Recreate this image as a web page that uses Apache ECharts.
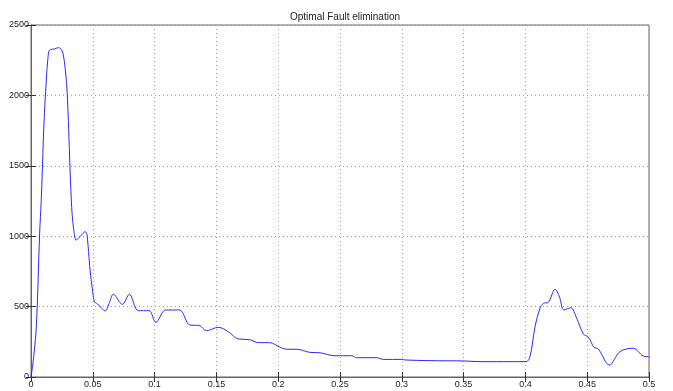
<!DOCTYPE html>
<html>
<head>
<meta charset="utf-8">
<script src="https://cdn.jsdelivr.net/npm/echarts@6/dist/echarts.min.js"></script>
<style>
  html, body { margin: 0; padding: 0; background: #fff; }
  #chart { width: 673px; height: 391px; }
</style>
</head>
<body>
<div id="chart"></div>
<script>
// Time (s) and signal amplitude samples
const timeValues = [
  0, 0.0016, 0.0043, 0.007, 0.0083, 0.0105, 0.0124, 0.0138, 0.0151, 0.019,
  0.0224, 0.024, 0.0259, 0.0278, 0.0294, 0.0326, 0.0345, 0.0367, 0.040, 0.0440,
  0.0455, 0.0475, 0.0500, 0.0515, 0.055, 0.0599, 0.0635, 0.0666, 0.0739, 0.0796,
  0.0868, 0.0955, 0.101, 0.109, 0.120, 0.1286, 0.136, 0.142, 0.1515, 0.1596,
  0.1677, 0.177, 0.184, 0.193, 0.2015, 0.207, 0.215, 0.2257, 0.2338, 0.246,
  0.2595, 0.2635, 0.2797, 0.285, 0.300, 0.3026, 0.3228, 0.35, 0.3633, 0.4005,
  0.4037, 0.4078, 0.4118, 0.4145, 0.4185, 0.424, 0.4275, 0.4312, 0.4366, 0.4415,
  0.4469, 0.451, 0.4555, 0.459, 0.468, 0.4765, 0.4873, 0.4954, 0.5
];
const amplitudeValues = [
  0, 99, 357, 1022, 1257, 1800, 2109, 2275, 2322, 2330,
  2339, 2332, 2299, 2180, 2003, 1257, 1050, 973, 1000, 1032,
  1000, 783, 600, 535, 510, 469, 530, 587, 516, 587,
  471, 471, 388, 476, 476, 369, 366, 329, 353, 322,
  270, 265, 244, 244, 211, 197, 197, 175, 172, 151,
  151, 137, 137, 125, 125, 121, 116, 114, 109, 109,
  144, 357, 488, 523, 530, 623, 570, 476, 492, 417,
  305, 283, 211, 199, 85, 180, 204, 149, 144
];
const xTickLabels = ['0', '0.05', '0.1', '0.15', '0.2', '0.25', '0.3', '0.35', '0.4', '0.45', '0.5'];
const yTickLabels = ['0', '500', '1000', '1500', '2000', '2500'];
const chartTitle = 'Optimal Fault elimination';

const seriesData = timeValues.map((t, i) => [t, amplitudeValues[i]]);
const labelFont = { fontFamily: "'Liberation Sans Narrow', 'Liberation Sans', Arial, sans-serif", fontSize: 9, color: '#222' };
const frameColor = '#666';

const chart = echarts.init(document.getElementById('chart'), null, { renderer: 'canvas' });
chart.setOption({
  animation: false,
  backgroundColor: '#fff',
  title: {
    text: chartTitle,
    left: 340, top: 7, textAlign: 'center',
    textStyle: { fontFamily: labelFont.fontFamily, fontSize: 10, fontWeight: 'normal', color: '#222' }
  },
  grid: { left: 31, right: 24, top: 25, bottom: 14, show: true, borderColor: frameColor, borderWidth: 1, backgroundColor: 'transparent' },
  xAxis: [
    {
      type: 'value', min: 0, max: 0.5, interval: 0.05,
      axisLine: { show: true, lineStyle: { color: frameColor } },
      axisTick: { show: true, inside: true, length: 5, lineStyle: { color: '#333' } },
      axisLabel: {
        ...labelFont, margin: 3,
        formatter: (v) => xTickLabels[Math.round(v / 0.05)]
      },
      splitLine: { show: true, lineStyle: { color: '#999', type: [1, 3], width: 1 } }
    },
    {
      type: 'value', min: 0, max: 0.5, interval: 0.05, position: 'top',
      axisLine: { show: true, lineStyle: { color: frameColor } },
      axisTick: { show: true, inside: true, length: 5, lineStyle: { color: '#333' } },
      axisLabel: { show: false },
      splitLine: { show: false }
    }
  ],
  yAxis: [
    {
      type: 'value', min: 0, max: 2500, interval: 500,
      axisLine: { show: true, lineStyle: { color: frameColor } },
      axisTick: { show: true, inside: true, length: 5, lineStyle: { color: '#333' } },
      axisLabel: {
        ...labelFont, margin: 2,
        formatter: (v) => yTickLabels[Math.round(v / 500)]
      },
      splitLine: { show: true, lineStyle: { color: '#999', type: [1, 3], width: 1 } }
    },
    {
      type: 'value', min: 0, max: 2500, interval: 500, position: 'right',
      axisLine: { show: true, lineStyle: { color: frameColor } },
      axisTick: { show: true, inside: true, length: 5, lineStyle: { color: '#333' } },
      axisLabel: { show: false },
      splitLine: { show: false }
    }
  ],
  series: [{
    type: 'line',
    data: seriesData,
    xAxisIndex: 0, yAxisIndex: 0,
    showSymbol: false,
    smooth: 0.35,
    lineStyle: { color: '#2a2aff', width: 1 }
  }]
});
</script>
</body>
</html>
